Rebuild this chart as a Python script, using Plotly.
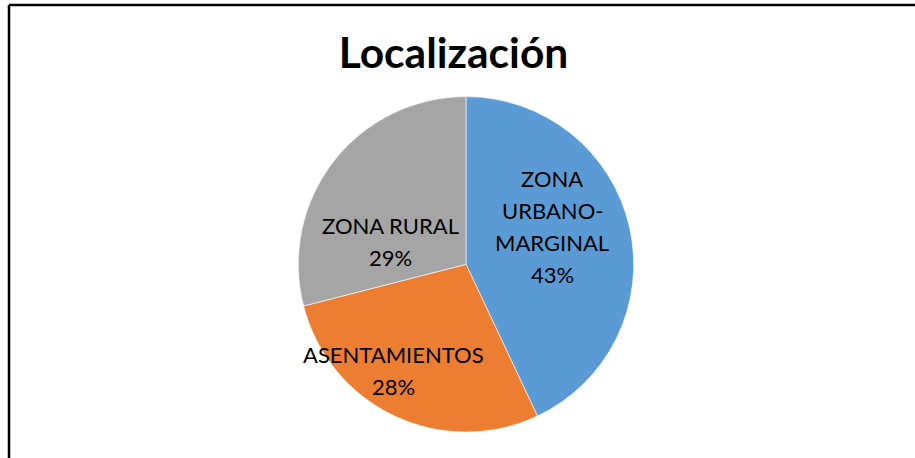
import plotly.graph_objects as go

title = "Localización"
labels = ["ZONA URBANO-MARGINAL", "ASENTAMIENTOS", "ZONA RURAL"]
label_lines = [["ZONA", "URBANO-", "MARGINAL"], ["ASENTAMIENTOS"], ["ZONA RURAL"]]
values = [43, 28, 29]
colors = ["#5B9BD5", "#ED7D31", "#A5A5A5"]

W, H = 915, 458
cx, cy, r = 466, 264.3, 167.7

# label anchor positions (pixel centre of first line) and line spacing
label_pos = [(552, 178), (393, 354), (390, 225)]
line_gap = 32

fig = go.Figure(go.Pie(
    labels=labels,
    values=values,
    textinfo="none",
    sort=False,
    direction="clockwise",
    rotation=0,
    marker=dict(colors=colors, line=dict(color="white", width=0.6)),
    showlegend=False,
    hoverinfo="label+percent",
    domain=dict(x=[(cx - r) / W, (cx + r) / W], y=[1 - (cy + r) / H, 1 - (cy - r) / H]),
))

total = sum(values)
annotations = []
for lines, v, (px, py) in zip(label_lines, values, label_pos):
    all_lines = lines + [f"{round(100 * v / total)}%"]
    for i, t in enumerate(all_lines):
        annotations.append(dict(
            text=t, xref="paper", yref="paper",
            x=px / W, y=1 - (py + i * line_gap) / H,
            xanchor="center", yanchor="middle", showarrow=False,
            font=dict(family="Lato", size=22, color="black"),
        ))

fig.update_layout(
    width=W, height=H,
    margin=dict(l=0, r=0, t=0, b=0),
    paper_bgcolor="white",
    plot_bgcolor="white",
    title=dict(text="<b>" + title + "</b>", x=453.5 / W, xanchor="center", y=1 - 53.5 / H, yanchor="middle",
               font=dict(family="Lato", size=42.5, color="black")),
    annotations=annotations,
    shapes=[
        dict(type="line", xref="paper", yref="paper", x0=9 / W, x1=9 / W, y0=0, y1=1 - 5 / H,
             line=dict(color="black", width=2.5)),
        dict(type="line", xref="paper", yref="paper", x0=9 / W, x1=1, y0=1 - 5 / H, y1=1 - 5 / H,
             line=dict(color="black", width=2.5)),
    ],
)

fig.write_html("out.html", config={"displayModeBar": False},
               post_script="document.body.style.margin='0';")
